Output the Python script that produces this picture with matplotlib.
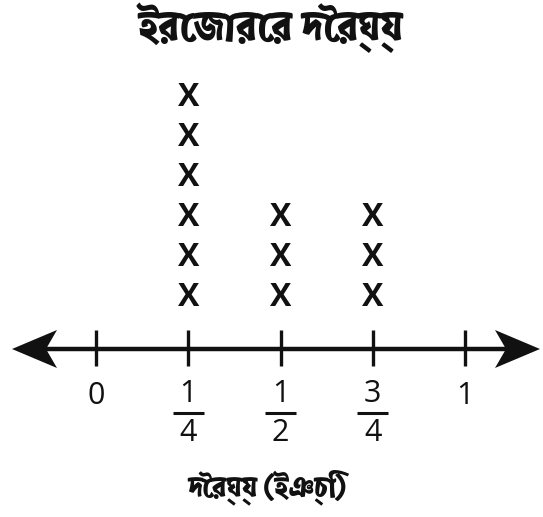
import matplotlib
matplotlib.use("Agg")
import matplotlib.pyplot as plt
from matplotlib import font_manager
from matplotlib.patches import Polygon

# ---- data ----
title = "ইরেজারের দৈর্ঘ্য"
xlabel = "দৈর্ঘ্য (ইঞ্চি)"
tick_values = [0, 0.25, 0.5, 0.75, 1]
tick_numerators = ["0", "1", "1", "3", "1"]
tick_denominators = [None, "4", "2", "4", None]
value_positions = [0.25, 0.5, 0.75]
value_counts = [6, 3, 3]


def find_bengali_font():
    try:
        from fontTools.ttLib import TTFont
    except Exception:
        return None
    found = []
    for path in font_manager.findSystemFonts():
        try:
            f = TTFont(path, fontNumber=0, lazy=True)
            cmap = f.getBestCmap()
            if cmap and 0x0987 in cmap and 0x09CD in cmap:
                found.append(path)
        except Exception:
            continue
    if not found:
        return None
    found.sort(key=lambda p: (0 if "bold" in p.lower() else 1, p))
    return found[0]


bn_path = find_bengali_font()
if bn_path:
    font_manager.fontManager.addfont(bn_path)
    bn_name = font_manager.FontProperties(fname=bn_path).get_name()
    bn_family = [bn_name, "DejaVu Sans"]
else:
    bn_family = ["Noto Sans", "DejaVu Sans"]
num_family = ["Open Sans", "DejaVu Sans"]

W, H = 543, 517
fig = plt.figure(figsize=(W / 100, H / 100), dpi=100)
ax = fig.add_axes([0, 0, 1, 1])
ax.set_axis_off()

# pixel mapping: x=0 -> 96px, x=1 -> 465px ; y=0 -> 349px, 1 unit = 40px
x0px, x1px = 96, 465
sx = x1px - x0px
ax.set_xlim(-x0px / sx, (W - x0px) / sx)
ypx0, sy = 349, 40
ax.set_ylim(-(H - ypx0) / sy, ypx0 / sy)

left = (12 - x0px) / sx
right = (540 - x0px) / sx

# main line
ax.plot([left + 30 / sx, right - 30 / sx], [0, 0], color="#111111", lw=3.2,
        solid_capstyle="butt", zorder=2)

# arrowheads (shape in pixels)
def head(xtip, direction):
    pts = [(0, 0), (45, 19), (34, 0), (45, -19)]
    poly = [(xtip + direction * px / sx, py / sy) for px, py in pts]
    ax.add_patch(Polygon(poly, closed=True, color="#111111", zorder=3, lw=0))

head(left, 1)
head(right, -1)

# ticks
for v in tick_values:
    ax.plot([v, v], [-17 / sy, 19 / sy], color="#111111", lw=2.4,
            solid_capstyle="butt", zorder=2)

# tick labels
for v, n, d in zip(tick_values, tick_numerators, tick_denominators):
    if d is None:
        ax.text(v, (ypx0 - 396) / sy, n, ha="center", va="center",
                fontsize=22, family=num_family, color="#111111")
    else:
        ax.text(v, (ypx0 - 394) / sy, n, ha="center", va="center",
                fontsize=22, family=num_family, color="#111111")
        ax.plot([v - 15.5 / sx, v + 15.5 / sx], [(ypx0 - 413) / sy] * 2,
                color="#111111", lw=2.2, solid_capstyle="butt")
        ax.text(v, (ypx0 - 433) / sy, d, ha="center", va="center",
                fontsize=22, family=num_family, color="#111111")

# X marks
for v, c in zip(value_positions, value_counts):
    for k in range(c):
        ax.text(v, 1.3 + k, "X", ha="center", va="center", fontsize=23,
                family=num_family, weight="bold", color="#111111")

# title and axis label
ax.text((271 - x0px) / sx, (ypx0 - 28) / sy, title, ha="center", va="center",
        fontsize=29, family=bn_family, weight="bold", color="#111111")
ax.text((268 - x0px) / sx, (ypx0 - 487) / sy, xlabel, ha="center", va="center",
        fontsize=20, family=bn_family, weight="bold", color="#111111")

fig.savefig("out.png", dpi=100)
